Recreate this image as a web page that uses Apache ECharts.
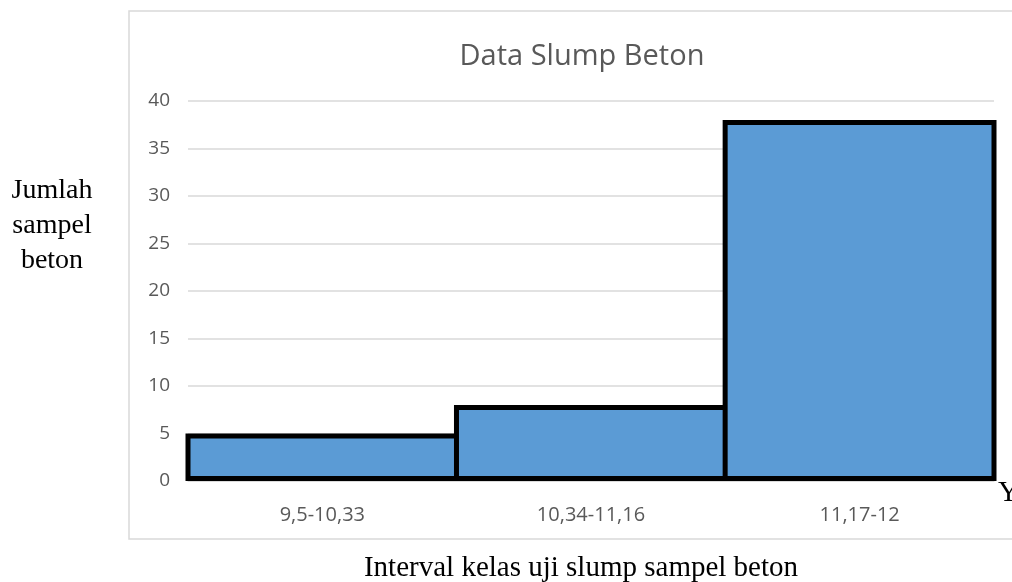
<!DOCTYPE html>
<html><head><meta charset="utf-8">
<script src="https://cdn.jsdelivr.net/npm/echarts@6/dist/echarts.min.js"></script>
<style>html,body{margin:0;padding:0;background:#fff}#c{width:1012px;height:582px}</style>
</head><body><div id="c"></div>
<script>
const categories = ['9,5-10,33', '10,34-11,16', '11,17-12'];
const counts = [5, 8, 38];
const yTicks = [0, 5, 10, 15, 20, 25, 30, 35, 40];
const titleText = 'Data Slump Beton';
const yTitleLines = ['Jumlah', 'sampel', 'beton'];
const xTitle = 'Interval kelas uji slump sampel beton';

const chart = echarts.init(document.getElementById('c'));
chart.setOption({
  animation: false,
  backgroundColor: '#fff',
  title: {
    text: titleText, left: 577, top: 37, textAlign: 'center',
    textStyle: {fontFamily: 'Open Sans', fontSize: 29, fontWeight: 'normal', color: '#595959'}
  },
  grid: {left: 188, right: 18, top: 101, bottom: 101},
  xAxis: {
    type: 'category', data: categories,
    axisLine: {lineStyle: {color: '#d9d9d9', width: 1.5}},
    axisTick: {show: false},
    axisLabel: {fontFamily: 'Open Sans', fontSize: 20, color: '#595959', margin: 24}
  },
  yAxis: {
    type: 'value', min: yTicks[0], max: yTicks[yTicks.length-1], interval: 5,
    axisLine: {show: false}, axisTick: {show: false},
    axisLabel: {fontFamily: 'Open Sans', fontSize: 19, color: '#595959', margin: 18},
    splitLine: {lineStyle: {color: '#d9d9d9', width: 1.5}}
  },
  series: [{
    type: 'bar', data: counts, barWidth: '102%', barGap: '-2%',
    itemStyle: {color: '#5b9bd5', borderColor: '#000', borderWidth: 5}
  }],
  graphic: [
    {type: 'rect', shape: {x: 129, y: 11, width: 900, height: 528}, style: {fill: 'none', stroke: '#d9d9d9', lineWidth: 1.5}, z: -1},
    {type: 'text', x: 52, y: 226, style: {text: yTitleLines.join('\n'), fontFamily: 'Liberation Serif', fontSize: 28, lineHeight: 35, fill: '#000', align: 'center', verticalAlign: 'middle'}},
    {type: 'text', x: 581, y: 568, style: {text: xTitle, fontFamily: 'Liberation Serif', fontSize: 29, fill: '#000', align: 'center', verticalAlign: 'middle'}},
    {type: 'text', x: 998, y: 493, style: {text: 'Y', fontFamily: 'Liberation Serif', fontSize: 29, fill: '#000', align: 'left', verticalAlign: 'middle'}}
  ]
});
</script></body></html>
